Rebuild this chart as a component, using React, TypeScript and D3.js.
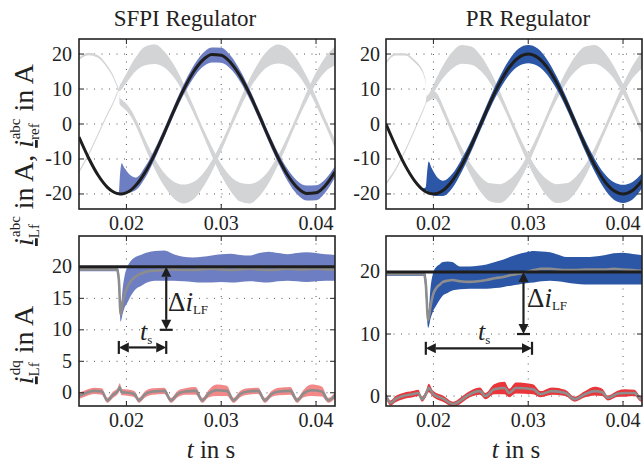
import React from "react";
import * as d3 from "d3";

// ---------------- data ----------------
const X_TICKS = [0.02, 0.03, 0.04];
const X_TICK_LABELS = ["0.02", "0.03", "0.04"];
const TOP_Y_TICKS = [-20, -10, 0, 10, 20];
const BL_Y_TICKS = [0, 5, 10, 15, 20];
const BR_Y_TICKS = [0, 10, 20];

// time grid for the abc panels (s)
const T_TOP = [0.015, 0.016, 0.017, 0.018, 0.0186, 0.019, 0.0192, 0.0193, 0.0195, 0.0198, 0.0201, 0.0205, 0.021,
  0.022, 0.023, 0.024, 0.025, 0.026, 0.027, 0.028, 0.029, 0.030, 0.031, 0.032, 0.033, 0.034, 0.035, 0.036, 0.037,
  0.038, 0.039, 0.040, 0.041, 0.042];

// ---- SFPI, abc ----
const SFPI_REF = [-3.75, -9.64, -14.58, -18.10, -19.37, -19.84, -19.96, -19.99, -19.99, -19.84, -19.52, -18.82, -17.53,
  -13.69, -8.52, -2.51, 3.75, 9.64, 14.58, 18.10, 19.84, 19.65, 17.53, 13.69, 8.52, 2.51, -3.75, -9.64, -14.58, -18.10,
  -19.84, -19.65, -17.53, -13.69];
const SFPI_A_LO = [-4.1, -10.0, -14.9, -18.4, -19.7, -20.2, -20.3, -20.3, -20.2, -20.0, -19.8, -19.5, -18.9,
  -15.3, -9.9, -3.8, 2.5, 8.2, 12.9, 16.2, 17.6, 17.5, 15.7, 12.1, 7.1, 1.2, -5.1, -11.1, -16.3, -20.1, -21.9, -21.8,
  -19.5, -15.3];
const SFPI_A_HI = [-3.4, -9.3, -14.3, -17.8, -19.0, -19.5, -19.6, -15.5, -11.2, -12.6, -13.7, -14.8, -15.3,
  -12.1, -7.1, -1.2, 5.1, 11.1, 16.3, 20.1, 21.9, 21.8, 19.5, 15.3, 9.9, 3.8, -2.5, -8.2, -12.9, -16.2, -17.6, -17.5,
  -15.7, -12.1];
const SFPI_B_MID = [18.6, 20.0, 19.3, 16.3, 13.6, 11.0, 9.5, 6.5, 6.0, 5.3, 4.5, 3.0, 0.4,
  -5.78, -11.41, -15.93, -18.89, -20.0, -19.15, -16.42, -12.09, -6.58, -0.42, 5.78, 11.41, 15.93, 18.89, 20.0, 19.15,
  16.42, 12.09, 6.58, 0.42, -5.78];
const SFPI_B_HW = [0.35, 0.35, 0.35, 0.35, 0.35, 0.35, 0.35, 0.9, 1.0, 1.0, 1.0, 1.0, 1.0,
  1.2, 1.5, 1.9, 2.4, 2.7, 2.5, 2.0, 1.6, 1.2, 1.0, 1.2, 1.5, 1.9, 2.4, 2.7, 2.5, 2.0, 1.6, 1.2, 1.0, 1.2];
const SFPI_C_MID = [-13.7, -8.8, -3.0, 2.8, 6.0, 8.6, 9.8, 10.2, 10.9, 12.3, 13.5, 15.3, 17.14,
  19.47, 19.93, 18.42, 15.14, 10.35, 4.57, -1.68, -7.75, -13.10, -17.11, -19.47, -19.93, -18.42, -15.14, -10.35, -4.57,
  1.68, 7.75, 13.10, 17.11, 19.47];
const SFPI_C_HW = [0.35, 0.35, 0.35, 0.35, 0.35, 0.35, 0.35, 0.8, 1.0, 1.2, 1.4, 1.7, 2.0,
  2.7, 2.8, 2.3, 1.8, 1.4, 1.1, 1.0, 1.3, 1.6, 2.1, 2.7, 2.8, 2.3, 1.8, 1.4, 1.1, 1.0, 1.3, 1.6, 2.1, 2.7];

// ---- PR, abc ----
const PR_REF = [0, -6.18, -11.76, -16.18, -18.10, -19.02, -19.37, -19.52, -19.75, -19.96, -19.99, -19.75, -19.02,
  -16.18, -11.76, -6.18, 0, 6.18, 11.76, 16.18, 19.02, 20.0, 19.02, 16.18, 11.76, 6.18, 0, -6.18, -11.76, -16.18,
  -19.02, -20.0, -19.02, -16.18];
const PR_A_LO = [-0.35, -6.5, -12.1, -16.5, -18.4, -19.2, -19.0, -19.0, -19.6, -20.2, -20.5, -20.6, -20.6,
  -18.3, -13.6, -7.8, -1.5, 4.6, 9.9, 14.1, 16.6, 17.4, 16.6, 14.1, 9.9, 4.6, -1.5, -7.8, -13.6, -18.4, -21.6, -22.6,
  -21.6, -18.4];
const PR_A_HI = [0.35, -5.8, -11.4, -15.8, -17.7, -18.4, -18.0, -15.0, -10.7, -12.5, -14.0, -15.5, -16.2,
  -14.2, -9.9, -4.6, 1.5, 7.8, 13.6, 18.4, 21.6, 22.6, 21.6, 18.4, 13.6, 7.8, 1.5, -4.6, -9.9, -14.1, -16.6, -17.4,
  -16.6, -14.1];
const PR_B_MID = [17.5, 19.9, 19.9, 18.0, 16.2, 14.0, 11.5, 7.0, 7.4, 8.0, 8.3, 7.2, 4.16,
  -2.09, -8.13, -13.38, -17.32, -19.56, -19.89, -18.27, -14.86, -10, -4.16, 2.09, 8.13, 13.38, 17.32, 19.56, 19.89,
  18.27, 14.86, 10, 4.16, -2.09];
const PR_B_HW = [0.35, 0.35, 0.35, 0.35, 0.35, 0.35, 0.35, 0.8, 0.9, 1.0, 1.0, 1.1, 1.1,
  1.0, 1.3, 1.7, 2.2, 2.6, 2.7, 2.4, 1.8, 1.4, 1.1, 1.0, 1.3, 1.7, 2.2, 2.6, 2.7, 2.4, 1.8, 1.4, 1.1, 1.0];
const PR_C_MID = [-17.1, -13.0, -7.8, -1.8, 2.0, 4.5, 6.0, 7.0, 7.6, 8.9, 10.53, 12.59, 14.86,
  18.27, 19.89, 19.56, 17.32, 13.38, 8.13, 2.09, -4.16, -10, -14.86, -18.27, -19.89, -19.56, -17.32, -13.38, -8.13,
  -2.09, 4.16, 10, 14.86, 18.27];
const PR_C_HW = [0.35, 0.35, 0.35, 0.35, 0.35, 0.35, 0.35, 0.8, 0.9, 1.1, 1.3, 1.5, 1.8,
  2.4, 2.7, 2.6, 2.2, 1.7, 1.3, 1.0, 1.1, 1.4, 1.8, 2.4, 2.7, 2.6, 2.2, 1.7, 1.3, 1.0, 1.1, 1.4, 1.8, 2.4];

// ---- SFPI, dq ----
const SFPI_D_T = [0.015, 0.016, 0.017, 0.018, 0.0190, 0.0192, 0.0194, 0.0196, 0.0198, 0.0201, 0.0205, 0.021, 0.0215,
  0.022, 0.023, 0.024, 0.025, 0.026, 0.027, 0.028, 0.029, 0.030, 0.031, 0.032, 0.033, 0.034, 0.035, 0.036, 0.037,
  0.038, 0.039, 0.040, 0.041, 0.042];
const SFPI_D_LO = [19.3, 19.3, 19.3, 19.3, 19.3, 16.5, 11.3, 12.5, 13.5, 14.3, 15.5, 16.5, 16.9, 17.4, 17.8, 17.8,
  17.8, 17.7, 17.6, 17.5, 17.5, 17.6, 17.5, 17.6, 17.7, 17.6, 17.5, 17.7, 17.8, 17.7, 17.6, 17.7, 17.8, 17.8];
const SFPI_D_HI = [19.9, 19.9, 19.9, 19.9, 19.9, 19.5, 13.5, 16.5, 18.5, 20.0, 21.0, 21.6, 21.9, 22.2, 22.5, 22.6,
  22.0, 21.6, 21.5, 21.6, 21.8, 22.0, 22.1, 21.9, 21.8, 22.2, 22.4, 22.2, 22.0, 22.2, 22.3, 22.2, 22.0, 21.9];
const SFPI_D_MID = [19.6, 19.6, 19.6, 19.6, 19.6, 18.0, 12.4, 14.3, 15.6, 16.8, 17.8, 18.5, 18.9, 19.2, 19.4, 19.5,
  19.6, 19.5, 19.5, 19.6, 19.7, 19.6, 19.5, 19.6, 19.7, 19.6, 19.5, 19.6, 19.7, 19.6, 19.6, 19.7, 19.6, 19.6];
const SFPI_Q_T = [0.0150, 0.0158, 0.0166, 0.0174, 0.0180, 0.0186, 0.0191, 0.0193, 0.0195, 0.0203, 0.0209, 0.0213,
  0.0220, 0.0228, 0.0240, 0.0247, 0.0254, 0.0262, 0.0273, 0.0280, 0.0287, 0.0295, 0.0306, 0.0313, 0.0320, 0.0328,
  0.0339, 0.0346, 0.0353, 0.0361, 0.0373, 0.0380, 0.0387, 0.0395, 0.0406, 0.0413, 0.0420];
const SFPI_Q_MID = [-0.5, 0.0, 0.3, 0.2, -1.2, -0.3, 0.3, 0.9, 0.1, 0.0, -0.3, -1.2,
  -0.2, 0.2, 0.3, -1.2, -0.2, 0.2, 0.3, -1.2, -0.1, 0.4, 0.3, -1.2, -0.2, 0.2,
  0.3, -1.2, -0.2, 0.2, 0.3, -1.2, -0.1, 0.4, 0.2, -1.2, -0.4];
const SFPI_Q_HW = [0.5, 0.5, 0.5, 0.5, 0.4, 0.5, 0.5, 0.6, 0.5, 0.5, 0.5, 0.4,
  0.5, 0.5, 0.5, 0.4, 0.5, 0.5, 0.6, 0.4, 0.6, 0.9, 0.8, 0.4, 0.5, 0.5,
  0.5, 0.4, 0.5, 0.6, 0.6, 0.4, 0.6, 0.9, 0.8, 0.4, 0.5];

// ---- PR, dq ----
const PR_D_T = [0.015, 0.016, 0.017, 0.018, 0.0190, 0.0192, 0.01945, 0.0197, 0.0200, 0.0203, 0.0207, 0.021, 0.0215,
  0.022, 0.0228, 0.0238, 0.0247, 0.0256, 0.0265, 0.0274, 0.0282, 0.0290, 0.0298, 0.0306, 0.0314, 0.0323, 0.0331,
  0.0340, 0.0350, 0.0360, 0.0370, 0.0380, 0.0390, 0.0400, 0.0410, 0.0420];
const PR_D_LO = [19.4, 19.4, 19.4, 19.4, 19.4, 16.0, 11.0, 12.5, 13.8, 14.6, 15.6, 16.2, 16.6, 17.0, 17.2, 17.3,
  17.3, 17.3, 17.4, 17.6, 17.8, 18.0, 18.2, 18.3, 18.5, 18.6, 18.5, 18.3, 18.1, 18.0, 18.0, 18.0, 18.0, 18.0, 18.0, 18.0];
const PR_D_HI = [19.9, 19.9, 19.9, 19.9, 19.9, 19.6, 13.0, 17.5, 20.0, 20.8, 21.3, 21.6, 21.7, 21.6, 20.9, 20.9,
  21.0, 21.2, 21.6, 22.0, 22.5, 22.9, 23.2, 23.4, 23.3, 23.2, 22.8, 22.4, 22.4, 22.4, 22.5, 22.7, 23.0, 23.1, 22.9, 22.7];
const PR_D_MID = [19.7, 19.7, 19.7, 19.7, 19.7, 18.0, 12.2, 14.5, 16.5, 17.4, 18.0, 18.4, 18.6, 18.7, 18.5, 18.4,
  18.5, 18.7, 19.0, 19.2, 19.5, 19.7, 20.0, 20.3, 20.5, 20.5, 20.4, 20.3, 20.3, 20.4, 20.4, 20.4, 20.5, 20.4, 20.3, 20.2];
const PR_Q_T = [0.0150, 0.0155, 0.0160, 0.0168, 0.0178, 0.0184, 0.0188, 0.0192, 0.0195, 0.0200, 0.0210, 0.0221,
  0.0228, 0.0235, 0.0249, 0.0255, 0.0264, 0.0275, 0.0280, 0.0287, 0.0305, 0.0313, 0.0325, 0.0339, 0.0349, 0.0360,
  0.0370, 0.0378, 0.0384, 0.0395, 0.0402, 0.0412, 0.0419, 0.0420];
const PR_Q_MID = [0.0, -1.1, -0.5, 0.0, 0.3, 0.5, -0.5, 0.3, 1.3, 0.3, -0.4, -1.3,
  -0.8, 0.0, 0.8, 0.0, 1.1, 1.3, 0.5, 1.3, 1.1, 0.3, 0.8, 0.5, -0.5, 0.3,
  0.8, 0.6, -0.3, 0.4, 0.5, 0.5, -0.5, -0.4];
const PR_Q_HW = [0.5, 0.4, 0.5, 0.5, 0.5, 0.5, 0.4, 0.5, 0.7, 0.5, 0.5, 0.4,
  0.5, 0.5, 0.6, 0.5, 0.8, 1.0, 0.7, 0.9, 0.8, 0.5, 0.6, 0.5, 0.4, 0.5,
  0.7, 0.6, 0.4, 0.5, 0.6, 0.5, 0.4, 0.4];

const D_REF_T = [0.015, 0.042];
const D_REF = [20, 20];

// annotations (data coordinates)
const SFPI_DELTA = { t: 0.0242, from: 20, to: 10 };
const SFPI_TS = { from: 0.0192, to: 0.0242, y: 7.2 };
const PR_DELTA = { t: 0.0295, from: 20, to: 10 };
const PR_TS = { from: 0.0192, to: 0.0304, y: 7.7 };

// ---------------- drawing ----------------
const FONT = "'Liberation Serif', 'Times New Roman', serif";
const GRAY = "#d3d4d6";
const BLACK = "#1e1e1e";
const MIDGRAY = "#8d8d8d";

type Box = { x0: number; x1: number; y0: number; y1: number };

function sub(a: number[], b: number[]) { return a.map((v, i) => v - b[i]); }
function add(a: number[], b: number[]) { return a.map((v, i) => v + b[i]); }

function bandPath(t: number[], lo: number[], hi: number[], x: any, y: any) {
  return d3.area<number>()
    .x((_, i) => x(t[i]))
    .y0((_, i) => y(lo[i]))
    .y1((_, i) => y(hi[i]))
    .curve(d3.curveMonotoneX)(t) || "";
}
function linePath(t: number[], v: number[], x: any, y: any) {
  return d3.line<number>()
    .x((_, i) => x(t[i]))
    .y((_, i) => y(v[i]))
    .curve(d3.curveMonotoneX)(t) || "";
}

function Frame({ box, x, y, yTicks, id, children, labelX }: any) {
  const tick = 5;
  return (
    <g>
      <defs>
        <clipPath id={id}>
          <rect x={box.x0} y={box.y0} width={box.x1 - box.x0} height={box.y1 - box.y0} />
        </clipPath>
      </defs>
      {/* grid */}
      <g stroke="#555" strokeWidth={1} strokeDasharray="1 6.5">
        {X_TICKS.map((v) => (
          <line key={"gx" + v} x1={x(v)} x2={x(v)} y1={box.y0} y2={box.y1} />
        ))}
        {yTicks.map((v: number) => (
          <line key={"gy" + v} x1={box.x0} x2={box.x1} y1={y(v)} y2={y(v)} />
        ))}
      </g>
      <g clipPath={`url(#${id})`}>{children}</g>
      {/* ticks */}
      <g stroke="#222" strokeWidth={1}>
        {X_TICKS.map((v) => (
          <g key={"tx" + v}>
            <line x1={x(v)} x2={x(v)} y1={box.y1} y2={box.y1 - tick} />
            <line x1={x(v)} x2={x(v)} y1={box.y0} y2={box.y0 + tick} />
          </g>
        ))}
        {yTicks.map((v: number) => (
          <g key={"ty" + v}>
            <line x1={box.x0} x2={box.x0 + tick} y1={y(v)} y2={y(v)} />
            <line x1={box.x1} x2={box.x1 - tick} y1={y(v)} y2={y(v)} />
          </g>
        ))}
      </g>
      <rect x={box.x0} y={box.y0} width={box.x1 - box.x0} height={box.y1 - box.y0}
        fill="none" stroke="#222" strokeWidth={1.6} />
      {/* tick labels */}
      <g fontFamily={FONT} fontSize={20} fill="#222">
        {X_TICKS.map((v, i) => (
          <text key={"lx" + v} x={x(v)} y={box.y1 + 21} textAnchor="middle">{X_TICK_LABELS[i]}</text>
        ))}
        {yTicks.map((v: number) => (
          <text key={"ly" + v} x={labelX} y={y(v) + 6.5} textAnchor="end">{String(v)}</text>
        ))}
      </g>
    </g>
  );
}

function AbcPanel({ box, id, refV, aLo, aHi, bMid, bHw, cMid, cHw, blue, labelX }: any) {
  const x = d3.scaleLinear().domain([0.015, 0.042]).range([box.x0, box.x1]);
  const y = d3.scaleLinear().domain([-24.3, 24.3]).range([box.y1, box.y0]);
  return (
    <Frame box={box} x={x} y={y} yTicks={TOP_Y_TICKS} id={id} labelX={labelX}>
      <path d={bandPath(T_TOP, sub(bMid, bHw), add(bMid, bHw), x, y)} fill={GRAY} />
      <path d={bandPath(T_TOP, sub(cMid, cHw), add(cMid, cHw), x, y)} fill={GRAY} />
      <path d={bandPath(T_TOP, aLo, aHi, x, y)} fill={blue} />
      <path d={linePath(T_TOP, refV, x, y)} fill="none" stroke={BLACK} strokeWidth={3} />
    </Frame>
  );
}

function Arrows({ x, y, delta, ts, deltaLabel, tsLabel }: any) {
  const vx = x(delta.t);
  const vy1 = y(delta.from);
  const vy2 = y(delta.to);
  const hx1 = x(ts.from);
  const hx2 = x(ts.to);
  const hy = y(ts.y);
  const hl = 10, hw = 5;
  return (
    <g fill={BLACK} stroke="none">
      <line x1={vx} x2={vx} y1={vy1 + hl} y2={vy2 - hl} stroke={BLACK} strokeWidth={2.2} />
      <polygon points={`${vx},${vy1} ${vx - hw},${vy1 + hl} ${vx + hw},${vy1 + hl}`} />
      <polygon points={`${vx},${vy2} ${vx - hw},${vy2 - hl} ${vx + hw},${vy2 - hl}`} />
      <line x1={vx - 6.5} x2={vx + 6.5} y1={vy2} y2={vy2} stroke={BLACK} strokeWidth={2.2} />

      <line x1={hx1 + hl} x2={hx2 - hl} y1={hy} y2={hy} stroke={BLACK} strokeWidth={2.2} />
      <polygon points={`${hx1},${hy} ${hx1 + hl},${hy - hw} ${hx1 + hl},${hy + hw}`} />
      <polygon points={`${hx2},${hy} ${hx2 - hl},${hy - hw} ${hx2 - hl},${hy + hw}`} />
      <line x1={hx1} x2={hx1} y1={hy - 6.5} y2={hy + 6.5} stroke={BLACK} strokeWidth={2.2} />
      <line x1={hx2} x2={hx2} y1={hy - 6.5} y2={hy + 6.5} stroke={BLACK} strokeWidth={2.2} />

      <text x={deltaLabel[0]} y={deltaLabel[1]} fontFamily={FONT} fontSize={27} fill="#222">
        <tspan>Δ</tspan>
        <tspan fontStyle="italic">i</tspan>
        <tspan fontSize={13} dy={3}>LF</tspan>
      </text>
      <text x={tsLabel[0]} y={tsLabel[1]} fontFamily={FONT} fontSize={26} fill="#222">
        <tspan fontStyle="italic">t</tspan>
        <tspan fontSize={13} dy={4}>s</tspan>
      </text>
    </g>
  );
}

function DqPanel({ box, id, yDomain, yTicks, dT, dLo, dHi, dMid, qT, qMid, qHw, blue, red, labelX, delta, ts, deltaLabel, tsLabel }: any) {
  const x = d3.scaleLinear().domain([0.015, 0.042]).range([box.x0, box.x1]);
  const y = d3.scaleLinear().domain(yDomain).range([box.y1, box.y0]);
  return (
    <g>
      <Frame box={box} x={x} y={y} yTicks={yTicks} id={id} labelX={labelX}>
        <path d={bandPath(dT, dLo, dHi, x, y)} fill={blue} />
        <path d={linePath(dT, dMid, x, y)} fill="none" stroke={MIDGRAY} strokeWidth={2.6} />
        <path d={linePath(D_REF_T, D_REF, x, y)} fill="none" stroke={BLACK} strokeWidth={3} />
        <path d={bandPath(qT, sub(qMid, qHw), add(qMid, qHw), x, y)} fill={red} />
        <path d={linePath(qT, qMid, x, y)} fill="none" stroke={MIDGRAY} strokeWidth={2.6} />
      </Frame>
      <Arrows x={x} y={y} delta={delta} ts={ts} deltaLabel={deltaLabel} tsLabel={tsLabel} />
    </g>
  );
}

export default function App() {
  const TL: Box = { x0: 79, x1: 335, y0: 39, y1: 209 };
  const TR: Box = { x0: 386, x1: 642, y0: 39, y1: 209 };
  const BL: Box = { x0: 79, x1: 335, y0: 236, y1: 406 };
  const BR: Box = { x0: 386, x1: 642, y0: 236, y1: 406 };
  const sup = 15;
  return (
    <svg width={643} height={464} viewBox="0 0 643 464"
      style={{ position: "absolute", left: 0, top: 0, background: "#fff" }}>
      <rect x={0} y={0} width={643} height={464} fill="#fff" />
      <text x={185} y={26} textAnchor="middle" fontFamily={FONT} fontSize={23} fill="#222">SFPI Regulator</text>
      <text x={528} y={26} textAnchor="middle" fontFamily={FONT} fontSize={23} fill="#222">PR Regulator</text>

      <AbcPanel box={TL} id="c1" refV={SFPI_REF} aLo={SFPI_A_LO} aHi={SFPI_A_HI}
        bMid={SFPI_B_MID} bHw={SFPI_B_HW} cMid={SFPI_C_MID} cHw={SFPI_C_HW} blue="#6e7ec2" labelX={72} />
      <AbcPanel box={TR} id="c2" refV={PR_REF} aLo={PR_A_LO} aHi={PR_A_HI}
        bMid={PR_B_MID} bHw={PR_B_HW} cMid={PR_C_MID} cHw={PR_C_HW} blue="#2c56a6" labelX={380} />

      <DqPanel box={BL} id="c3" yDomain={[-2.1, 24.9]} yTicks={BL_Y_TICKS} dT={SFPI_D_T} dLo={SFPI_D_LO}
        dHi={SFPI_D_HI} dMid={SFPI_D_MID} qT={SFPI_Q_T} qMid={SFPI_Q_MID} qHw={SFPI_Q_HW}
        blue="#6e7ec2" red="#f28888" labelX={72} delta={SFPI_DELTA} ts={SFPI_TS}
        deltaLabel={[168, 311]} tsLabel={[140, 340]} />
      <DqPanel box={BR} id="c4" yDomain={[-1.6, 25.8]} yTicks={BR_Y_TICKS} dT={PR_D_T} dLo={PR_D_LO}
        dHi={PR_D_HI} dMid={PR_D_MID} qT={PR_Q_T} qMid={PR_Q_MID} qHw={PR_Q_HW}
        blue="#2c56a6" red="#e8363a" labelX={380} delta={PR_DELTA} ts={PR_TS}
        deltaLabel={[527, 307]} tsLabel={[478, 340]} />

      {/* x axis labels */}
      <text x={211} y={458} textAnchor="middle" fontFamily={FONT} fontSize={25} fill="#222">
        <tspan fontStyle="italic">t</tspan> in s
      </text>
      <text x={516} y={458} textAnchor="middle" fontFamily={FONT} fontSize={25} fill="#222">
        <tspan fontStyle="italic">t</tspan> in s
      </text>

      {/* y axis labels */}
      <text transform="translate(33,155) rotate(-90)" textAnchor="middle" fontFamily={FONT} fontSize={28} fill="#222">
        <tspan fontStyle="italic" style={{ textDecoration: "underline" }}>i</tspan>
        <tspan fontSize={sup} dy={6}>Lf</tspan>
        <tspan fontSize={sup} dx={-13} dy={-19}>abc</tspan>
        <tspan dy={13}> in A,  </tspan>
        <tspan fontStyle="italic" style={{ textDecoration: "underline" }}>i</tspan>
        <tspan fontSize={sup} dy={6}>ref</tspan>
        <tspan fontSize={sup} dx={-16} dy={-19}>abc</tspan>
        <tspan dy={13}> in A</tspan>
      </text>
      <text transform="translate(33,345) rotate(-90)" textAnchor="middle" fontFamily={FONT} fontSize={28} fill="#222">
        <tspan fontStyle="italic" style={{ textDecoration: "underline" }}>i</tspan>
        <tspan fontSize={sup} dy={6}>Lf</tspan>
        <tspan fontSize={sup} dx={-13} dy={-19}>dq</tspan>
        <tspan dy={13}> in A</tspan>
      </text>
    </svg>
  );
}
